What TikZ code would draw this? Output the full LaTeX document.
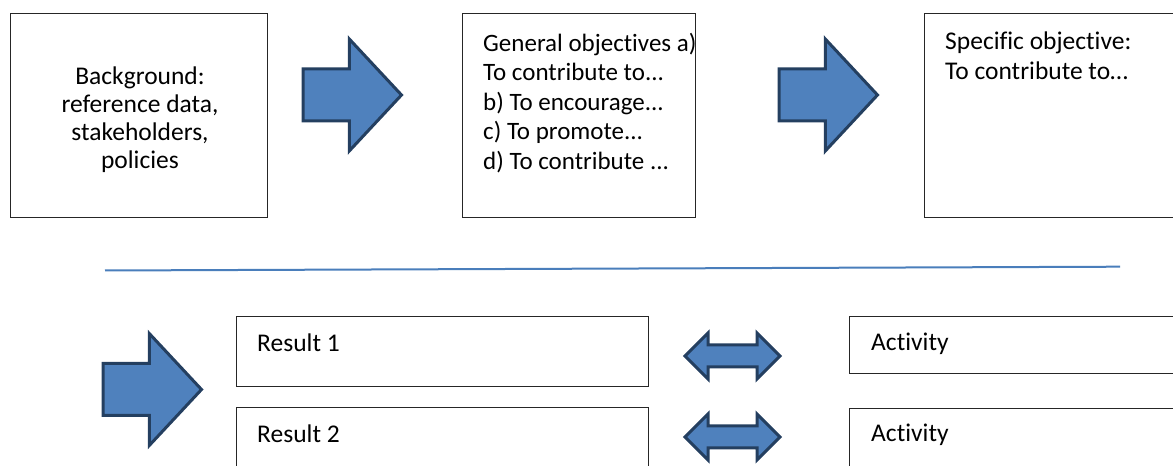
\documentclass[tikz,border=0pt]{standalone}
\usepackage{fontspec}
\setmainfont{Carlito}[Ligatures=NoCommon]
\usetikzlibrary{shapes.arrows,positioning}

\definecolor{arrowfill}{HTML}{4F81BD}
\definecolor{arrowedge}{HTML}{243F60}
\definecolor{linecol}{HTML}{4A7EBB}

\tikzset{
    box/.style={draw=black!85, line width=1.2bp, rectangle, inner sep=0pt, anchor=north west},
    txt/.style={inner sep=0pt, font=\fontsize{25.5bp}{29.5bp}\selectfont},
    bigarrow/.style={single arrow, draw=arrowedge, fill=arrowfill, line width=3bp,
        inner xsep=0pt, inner ysep=24.5bp, single arrow head extend=30bp,
        single arrow tip angle=94, minimum height=98.5bp, anchor=tail},
    twoway/.style={double arrow, draw=arrowedge, fill=arrowfill, line width=3bp,
        inner xsep=0pt, inner ysep=9.5bp, double arrow head extend=12bp,
        double arrow tip angle=90, minimum height=95bp},
    sepline/.style={draw=linecol, line width=2bp}
}

\begin{document}
\begin{tikzpicture}[x=1bp, y=-1bp]
    \clip (0,0) rectangle (1173,466);

    % top row
    \node[box, minimum width=257bp, minimum height=204bp] (bg) at (10,13) {};
    \node[box, minimum width=233bp, minimum height=204bp] (gen) at (462,13) {};
    \node[box, minimum width=270bp, minimum height=204bp] (spec) at (924,13) {};
    \node[txt, anchor=north, align=center, font=\fontsize{25.5bp}{27.7bp}\selectfont] (bgtext) at (140,67)
        {Background:\\reference data,\\stakeholders,\\policies};
    \node[txt, anchor=north west, align=left, font=\fontsize{25bp}{29.5bp}\selectfont] (gentext) at (483,33)
        {General objectives a)\\To contribute to...\\b) To encourage...\\c) To promote...\\d) To contribute ...};
    \node[txt, anchor=north west, align=left, font=\fontsize{25.5bp}{30bp}\selectfont] (spectext) at (945,32)
        {Specific objective:\\To contribute to…};
    \node[bigarrow] (a1) at (301.5,95) {};
    \node[bigarrow] (a2) at (777.5,95) {};

    % separator
    \coordinate (sepL) at (105,270.5);
    \coordinate (sepR) at (1120,266.7);
    \draw[sepline] (sepL) -- (sepR);

    % bottom rows
    \node[bigarrow] (a3) at (101.5,389.5) {};
    \node[box, minimum width=412bp, minimum height=70bp] (res1) at (236,316) {};
    \node[box, minimum width=412bp, minimum height=80bp] (res2) at (236,407) {};
    \node[box, minimum width=340bp, minimum height=57bp] (act1) at (849,316) {};
    \node[box, minimum width=340bp, minimum height=80bp] (act2) at (849,408) {};
    \node[txt, anchor=base west] at (257,352) {Result 1};
    \node[txt, anchor=base west] at (257,443) {Result 2};
    \node[txt, anchor=base west] at (871,351) {Activity};
    \node[txt, anchor=base west] at (871,442) {Activity};
    \node[twoway] (d1) at (732.5,356) {};
    \node[twoway] (d2) at (732.5,437) {};
\end{tikzpicture}
\end{document}
